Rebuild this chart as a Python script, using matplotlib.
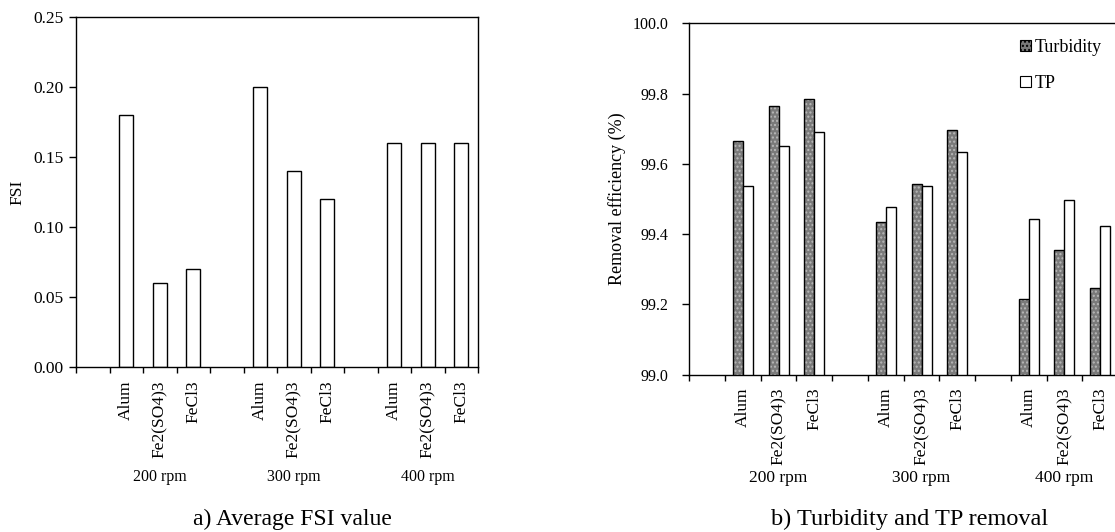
import matplotlib
matplotlib.use("Agg")
import matplotlib.pyplot as plt
from matplotlib.patches import Patch
import numpy as np

plt.rcParams["font.family"] = ["Liberation Serif", "DejaVu Serif"]
plt.rcParams["hatch.linewidth"] = 1.0

speeds = ["200 rpm", "300 rpm", "400 rpm"]
coagulants = ["Alum", "Fe2(SO4)3", "FeCl3"]
fsi = [0.18, 0.06, 0.07, 0.20, 0.14, 0.12, 0.16, 0.16, 0.16]
turbidity = [99.664, 99.764, 99.784, 99.434, 99.542, 99.696, 99.214, 99.355, 99.247]
tp = [99.537, 99.652, 99.692, 99.477, 99.537, 99.633, 99.442, 99.497, 99.422]

# every speed group takes 4 slots: one empty + three coagulants
pos = np.array([g * 4 + 1 + j for g in range(len(speeds)) for j in range(len(coagulants))])
group_centres = [g * 4 + 2 for g in range(len(speeds))]
tick_labels = coagulants * len(speeds)


def style_axis(ax, group_y, xpad, ysize, ypad, gsize):
    ax.set_xlim(-0.5, 11.5)
    ax.set_xticks(np.arange(-0.5, 12, 1))
    ax.set_xticklabels([])
    ax.set_xticks(pos, minor=True)
    ax.set_xticklabels(tick_labels, minor=True, rotation=90, fontsize=12.5)
    ax.tick_params(axis="x", which="minor", length=0, pad=xpad)
    ax.tick_params(axis="x", which="major", length=4, width=1, direction="out")
    ax.tick_params(axis="y", length=5, width=1, labelsize=ysize, pad=ypad)
    for s in ax.spines.values():
        s.set_linewidth(1)
    for x, name in zip(group_centres, speeds):
        ax.text(x, group_y, name, transform=ax.get_xaxis_transform(),
                ha="center", va="center", fontsize=gsize)


fig = plt.figure(figsize=(11.15, 5.32), dpi=100)

# a) FSI
ax1 = fig.add_axes([0.0682, 0.3102, 0.3605, 0.6579])
ax1.bar(pos, fsi, width=0.42, facecolor="white", edgecolor="black", linewidth=1)
ax1.set_ylim(0, 0.25)
ax1.set_yticks(np.arange(0, 0.26, 0.05))
ax1.set_yticklabels([f"{v:.2f}" for v in np.arange(0, 0.26, 0.05)])
ax1.set_ylabel("FSI", fontsize=12.5, labelpad=6)
style_axis(ax1, -0.314, 10, 12.5, 4, 11.5)

# b) turbidity and TP removal
ax2 = fig.add_axes([0.6182, 0.296, 0.3845, 0.660])
w = 0.28
ax2.bar(pos - w / 2, turbidity, width=w, facecolor="#7a7a7a",
        edgecolor="#b8b8b8", hatch="....", linewidth=0)
ax2.bar(pos - w / 2, turbidity, width=w, fill=False, edgecolor="black", linewidth=1)
ax2.bar(pos + w / 2, tp, width=w, facecolor="white", edgecolor="black", linewidth=1)
ax2.set_ylim(99.0, 100.0)
ax2.set_yticks(np.arange(99.0, 100.01, 0.2))
ax2.set_yticklabels([f"{v:.1f}" for v in np.arange(99.0, 100.01, 0.2)])
ax2.set_ylabel("Removal efficiency (%)", fontsize=13, labelpad=5)
ax2.spines["right"].set_visible(False)
style_axis(ax2, -0.295, 9, 11.5, 10, 12.5)

handles = [Patch(facecolor="#7a7a7a", edgecolor="black", hatch="....", linewidth=0.8),
           Patch(facecolor="white", edgecolor="black", linewidth=0.8)]
fig.legend(handles, ["Turbidity", "TP"], loc="upper left",
           bbox_to_anchor=(1020 / 1115, 1 - 39 / 532), frameon=False,
           handlelength=0.6, handleheight=0.6, handletextpad=0.2,
           labelspacing=1.05, borderpad=0, borderaxespad=0, fontsize=13)

fig.text(0.262, 0.0244, "a) Average FSI value", ha="center", va="center", fontsize=17)
fig.text(0.816, 0.0244, "b) Turbidity and TP removal", ha="center", va="center", fontsize=17.5)

fig.savefig("out.png", dpi=100)
